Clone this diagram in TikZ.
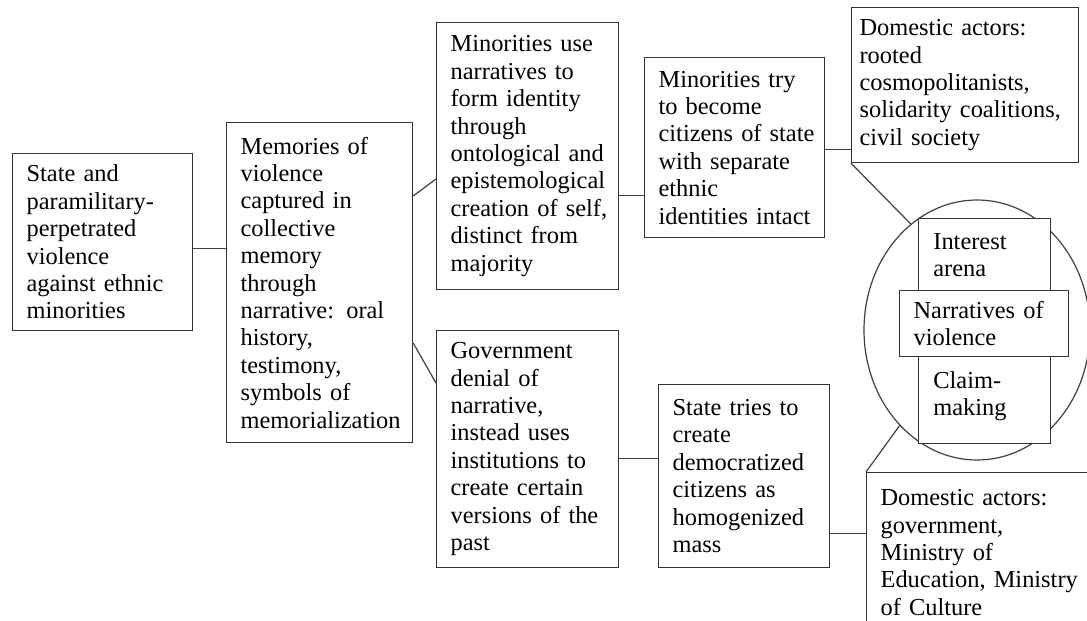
\documentclass[tikz,border=0pt]{standalone}
\usepackage{fontspec}
\setmainfont{Liberation Serif}
\usetikzlibrary{calc,shapes.geometric}
\hyphenpenalty=10000
\exhyphenpenalty=10000

\begin{document}
\begin{tikzpicture}[
  x=0.5pt, y=-0.5pt,
  txtbox/.style={
    draw=black!80,
    line width=0.6pt,
    fill=white,
    anchor=north west,
    align=left,
    inner xsep=7pt,
    inner ysep=0pt,
    font=\fontsize{12.2pt}{13.7pt}\selectfont
  },
  plain/.style={anchor=north west,inner sep=0pt,align=left,font=\fontsize{12.2pt}{13.7pt}\selectfont},
  link/.style={draw=black!75,line width=0.6pt}
]
  \clip (0,0) rectangle (1087,621);
  \fill[white] (0,0) rectangle (1087,621);

  \node[txtbox,text width=76pt,minimum height=88.5pt] (violence) at (12,153)
    {State and\\paramilitary-\\perpetrated\\violence\\against ethnic\\minorities};
  \node[txtbox,text width=79pt,minimum height=160pt] (memories) at (226,122)
    {Memories of\\violence\\captured in\\collective\\memory\\through\\narrative: oral\\history,\\testimony,\\symbols of\\memorialization};
  \node[txtbox,text width=77pt,minimum height=133.5pt] (identity) at (436,22)
    {Minorities use\\narratives to\\form identity\\through\\ontological~and\\epistemological\\creation~of~self,\\distinct from\\majority};
  \node[txtbox,text width=76pt,minimum height=90pt] (citizens) at (644,57)
    {Minorities try\\to become\\citizens~of~state\\with separate\\ethnic\\identities~intact};
  \node[txtbox,inner xsep=4pt,text width=105.5pt,minimum height=77.5pt] (rooted) at (851,7)
    {Domestic actors:\\rooted\\cosmopolitanists,\\solidarity~coalitions,\\civil society};
  \node[txtbox,text width=77pt,minimum height=118.5pt] (denial) at (436,330)
    {Government\\denial of\\narrative,\\instead uses\\institutions to\\create certain\\versions of the\\past};
  \node[txtbox,text width=71.5pt,minimum height=91.5pt] (homogen) at (658,384)
    {State tries to\\create\\democratized\\citizens as\\homogenized\\mass};
  \node[txtbox,text width=103pt,minimum height=80pt] (officials) at (866,472)
    {Domestic actors:\\government,\\Ministry of\\Education, Ministry\\of Culture};

  \node[draw=black!75,line width=0.6pt,ellipse,inner sep=0pt,minimum width=113pt,minimum height=130pt] (circ) at (977,330) {};

  \draw[link] ($(violence.east)+(0,6.5)$) -- ($(memories.west)+(0,-34)$);
  \draw[link] ($(memories.north east)+(0,74)$) -- ($(identity.north west)+(0,157)$);
  \draw[link] ($(memories.north east)+(0,221)$) -- ($(denial.north west)+(0,53)$);
  \draw[link] ($(identity.east)+(0,39.5)$) -- ($(citizens.west)+(0,48)$);
  \draw[link] ($(citizens.east)+(0,2)$) -- ($(rooted.west)+(0,64.5)$);
  \draw[link] ($(denial.east)+(0,9.5)$) -- ($(homogen.west)+(0,-17.5)$);
  \draw[link] ($(homogen.east)+(0,57.5)$) -- ($(officials.west)+(0,-19)$);
  \draw[link] (rooted.south west) -- (circ.122.6);
  \draw[link] (officials.north west) -- (circ.231.2);

  \node[txtbox,minimum width=66pt,minimum height=112.5pt,inner sep=0pt] (arena) at (918,218) {};
  \node[plain] (interest) at ($(arena.north west)+(15,15)$) {Interest\\arena};
  \node[plain] (claim) at ($(arena.south west)+(15,-73)$) {Claim-\\making};
  \node[txtbox,text width=70.5pt,minimum height=33pt] (narr) at (899,290)
    {Narratives of\\violence};
\end{tikzpicture}
\end{document}
